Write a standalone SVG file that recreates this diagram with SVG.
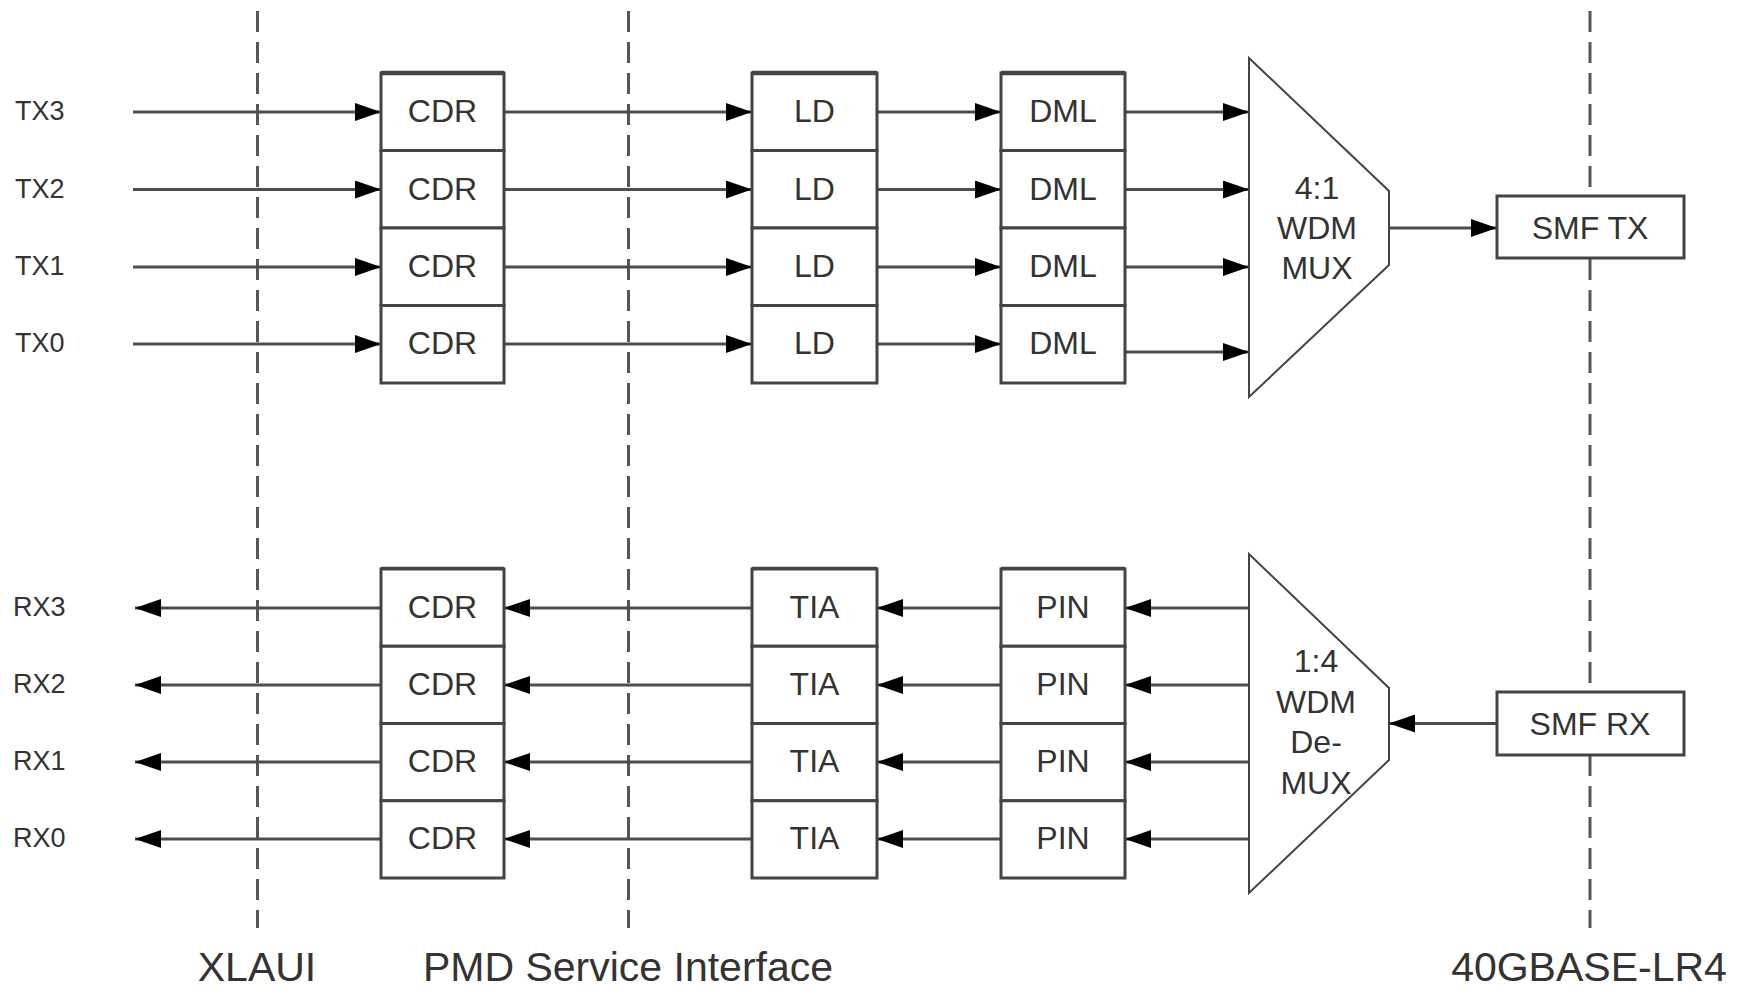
<svg xmlns="http://www.w3.org/2000/svg" width="1740" height="987" viewBox="0 0 1740 987">
<defs>
<marker id="ah" markerUnits="userSpaceOnUse" markerWidth="26" markerHeight="18" refX="26" refY="9" orient="auto">
<path d="M0,0 L26,9 L0,18 z" fill="#000"/>
</marker>
<style>
.bg{fill:#fff}
.box{fill:#fff;stroke:#444;stroke-width:3}
.top{stroke:#444;stroke-width:4.5}
.trap{fill:#fff;stroke:#444;stroke-width:2}
.dash{stroke:#555;stroke-width:3;stroke-dasharray:21 10;fill:none}
.c{stroke:#4d4d4d;stroke-width:3;fill:none;marker-end:url(#ah)}
.t{font-family:"Liberation Sans",Arial,sans-serif;fill:#333;font-size:32px;text-anchor:middle}
.lbl{font-family:"Liberation Sans",Arial,sans-serif;fill:#333;font-size:27px}
.big{font-family:"Liberation Sans",Arial,sans-serif;fill:#333;font-size:41px;text-anchor:middle}
</style>
</defs>
<rect class="bg" x="0" y="0" width="1740" height="987"/>
<g id="boundaries">
<line class="dash" x1="257.5" y1="11" x2="257.5" y2="928"/>
<line class="dash" x1="628.5" y1="11" x2="628.5" y2="928"/>
<line class="dash" x1="1590" y1="11" x2="1590" y2="928"/>
</g>
<g id="connectors">
<line class="c" x1="133" y1="112" x2="381" y2="112"/>
<line class="c" x1="133" y1="189.5" x2="381" y2="189.5"/>
<line class="c" x1="133" y1="267" x2="381" y2="267"/>
<line class="c" x1="133" y1="344" x2="381" y2="344"/>
<line class="c" x1="504" y1="112" x2="752" y2="112"/>
<line class="c" x1="504" y1="189.5" x2="752" y2="189.5"/>
<line class="c" x1="504" y1="267" x2="752" y2="267"/>
<line class="c" x1="504" y1="344" x2="752" y2="344"/>
<line class="c" x1="877" y1="112" x2="1001" y2="112"/>
<line class="c" x1="877" y1="189.5" x2="1001" y2="189.5"/>
<line class="c" x1="877" y1="267" x2="1001" y2="267"/>
<line class="c" x1="877" y1="344" x2="1001" y2="344"/>
<line class="c" x1="1125" y1="112" x2="1249" y2="112"/>
<line class="c" x1="1125" y1="189.5" x2="1249" y2="189.5"/>
<line class="c" x1="1125" y1="267" x2="1249" y2="267"/>
<line class="c" x1="1125" y1="352" x2="1249" y2="352"/>
<line class="c" x1="1389" y1="228" x2="1497" y2="228"/>
<line class="c" x1="1497" y1="723.5" x2="1389" y2="723.5"/>
<line class="c" x1="1249" y1="608" x2="1125" y2="608"/>
<line class="c" x1="1249" y1="685" x2="1125" y2="685"/>
<line class="c" x1="1249" y1="762" x2="1125" y2="762"/>
<line class="c" x1="1249" y1="839" x2="1125" y2="839"/>
<line class="c" x1="1001" y1="608" x2="877" y2="608"/>
<line class="c" x1="1001" y1="685" x2="877" y2="685"/>
<line class="c" x1="1001" y1="762" x2="877" y2="762"/>
<line class="c" x1="1001" y1="839" x2="877" y2="839"/>
<line class="c" x1="752" y1="608" x2="504" y2="608"/>
<line class="c" x1="752" y1="685" x2="504" y2="685"/>
<line class="c" x1="752" y1="762" x2="504" y2="762"/>
<line class="c" x1="752" y1="839" x2="504" y2="839"/>
<line class="c" x1="381" y1="608" x2="135" y2="608"/>
<line class="c" x1="381" y1="685" x2="135" y2="685"/>
<line class="c" x1="381" y1="762" x2="135" y2="762"/>
<line class="c" x1="381" y1="839" x2="135" y2="839"/>
</g>
<g id="tx-labels">
<text class="lbl" x="15" y="120">TX3</text>
<text class="lbl" x="15" y="197.5">TX2</text>
<text class="lbl" x="15" y="275">TX1</text>
<text class="lbl" x="15" y="352">TX0</text>
</g>
<g id="rx-labels">
<text class="lbl" x="13" y="616">RX3</text>
<text class="lbl" x="13" y="693">RX2</text>
<text class="lbl" x="13" y="770">RX1</text>
<text class="lbl" x="13" y="847">RX0</text>
</g>
<g id="tx-cdr3"><rect class="box" x="381" y="73" width="123" height="77.5"/><text class="t" x="442.5" y="122">CDR</text></g>
<g id="tx-cdr2"><rect class="box" x="381" y="150.5" width="123" height="77.5"/><text class="t" x="442.5" y="199.5">CDR</text></g>
<g id="tx-cdr1"><rect class="box" x="381" y="228" width="123" height="77.5"/><text class="t" x="442.5" y="277">CDR</text></g>
<g id="tx-cdr0"><rect class="box" x="381" y="305.5" width="123" height="77.5"/><text class="t" x="442.5" y="354">CDR</text></g>
<g id="ld3"><rect class="box" x="752" y="73" width="125" height="77.5"/><text class="t" x="814.5" y="122">LD</text></g>
<g id="ld2"><rect class="box" x="752" y="150.5" width="125" height="77.5"/><text class="t" x="814.5" y="199.5">LD</text></g>
<g id="ld1"><rect class="box" x="752" y="228" width="125" height="77.5"/><text class="t" x="814.5" y="277">LD</text></g>
<g id="ld0"><rect class="box" x="752" y="305.5" width="125" height="77.5"/><text class="t" x="814.5" y="354">LD</text></g>
<g id="dml3"><rect class="box" x="1001" y="73" width="124" height="77.5"/><text class="t" x="1063" y="122">DML</text></g>
<g id="dml2"><rect class="box" x="1001" y="150.5" width="124" height="77.5"/><text class="t" x="1063" y="199.5">DML</text></g>
<g id="dml1"><rect class="box" x="1001" y="228" width="124" height="77.5"/><text class="t" x="1063" y="277">DML</text></g>
<g id="dml0"><rect class="box" x="1001" y="305.5" width="124" height="77.5"/><text class="t" x="1063" y="354">DML</text></g>
<g id="stack-tops">
<line class="top" x1="381" y1="73" x2="504" y2="73"/>
<line class="top" x1="752" y1="73" x2="877" y2="73"/>
<line class="top" x1="1001" y1="73" x2="1125" y2="73"/>
<line class="top" x1="381" y1="569" x2="504" y2="569"/>
<line class="top" x1="752" y1="569" x2="877" y2="569"/>
<line class="top" x1="1001" y1="569" x2="1125" y2="569"/>
</g>
<g id="mux">
<polygon class="trap" points="1249,58 1389,191 1389,265 1249,397"/>
<text class="t" x="1317" y="199">4:1</text>
<text class="t" x="1317" y="239">WDM</text>
<text class="t" x="1317" y="279">MUX</text>
</g>
<g id="smf-tx"><rect class="box" x="1497" y="196" width="187" height="62"/><text class="t" x="1590" y="238.5">SMF TX</text></g>
<g id="rx-cdr3"><rect class="box" x="381" y="569" width="123" height="77.25"/><text class="t" x="442.5" y="618">CDR</text></g>
<g id="rx-cdr2"><rect class="box" x="381" y="646.25" width="123" height="77.25"/><text class="t" x="442.5" y="695">CDR</text></g>
<g id="rx-cdr1"><rect class="box" x="381" y="723.5" width="123" height="77.25"/><text class="t" x="442.5" y="772">CDR</text></g>
<g id="rx-cdr0"><rect class="box" x="381" y="800.75" width="123" height="77.25"/><text class="t" x="442.5" y="849">CDR</text></g>
<g id="tia3"><rect class="box" x="752" y="569" width="125" height="77.25"/><text class="t" x="814.5" y="618">TIA</text></g>
<g id="tia2"><rect class="box" x="752" y="646.25" width="125" height="77.25"/><text class="t" x="814.5" y="695">TIA</text></g>
<g id="tia1"><rect class="box" x="752" y="723.5" width="125" height="77.25"/><text class="t" x="814.5" y="772">TIA</text></g>
<g id="tia0"><rect class="box" x="752" y="800.75" width="125" height="77.25"/><text class="t" x="814.5" y="849">TIA</text></g>
<g id="pin3"><rect class="box" x="1001" y="569" width="124" height="77.25"/><text class="t" x="1063" y="618">PIN</text></g>
<g id="pin2"><rect class="box" x="1001" y="646.25" width="124" height="77.25"/><text class="t" x="1063" y="695">PIN</text></g>
<g id="pin1"><rect class="box" x="1001" y="723.5" width="124" height="77.25"/><text class="t" x="1063" y="772">PIN</text></g>
<g id="pin0"><rect class="box" x="1001" y="800.75" width="124" height="77.25"/><text class="t" x="1063" y="849">PIN</text></g>
<g id="demux">
<polygon class="trap" points="1249,554 1389,688 1389,760 1249,893"/>
<text class="t" x="1316" y="672">1:4</text>
<text class="t" x="1316" y="713">WDM</text>
<text class="t" x="1316" y="753">De-</text>
<text class="t" x="1316" y="794">MUX</text>
</g>
<g id="smf-rx"><rect class="box" x="1497" y="692" width="187" height="63"/><text class="t" x="1590" y="735">SMF RX</text></g>
<g id="boundary-labels">
<text class="big" x="257" y="981">XLAUI</text>
<text class="big" x="628" y="981">PMD Service Interface</text>
<text class="big" x="1589" y="981">40GBASE-LR4</text>
</g>
</svg>
